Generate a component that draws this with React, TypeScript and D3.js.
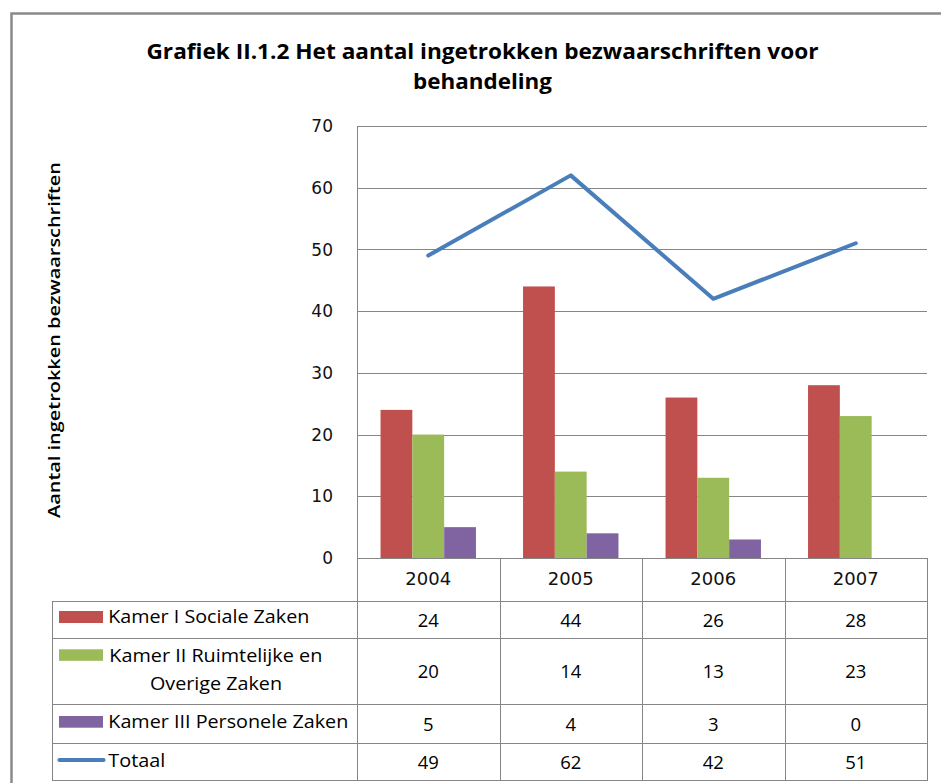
import React from "react";
import * as d3 from "d3";

const years = ["2004", "2005", "2006", "2007"];
const seriesNames = ["Kamer I Sociale Zaken", "Kamer II Ruimtelijke en Overige Zaken", "Kamer III Personele Zaken"];
const kamerI = [24, 44, 26, 28];
const kamerII = [20, 14, 13, 23];
const kamerIII = [5, 4, 3, 0];
const totaal = [49, 62, 42, 51];
const yTicks = [0, 10, 20, 30, 40, 50, 60, 70];
const barColors = ["#C0504D", "#9BBB59", "#8064A2"];
const lineColor = "#4A7EBB";

const W = 941;
const H = 783;
const gridColor = "#868686";

export default function App() {
  const plotL = 357, plotR = 927, plotT = 126, plotB = 558;
  const x = d3.scaleBand<string>().domain(years).range([plotL, plotR]).padding(0);
  const y = d3.scaleLinear().domain([0, 70]).range([plotB, plotT]);
  const bw = x.bandwidth();
  const sub = d3.scaleBand<string>().domain(["a", "b", "c"]).range([0, bw]).paddingInner(0).paddingOuter(0.74);
  const barSeries = [kamerI, kamerII, kamerIII];
  const subKeys = ["a", "b", "c"];

  const line = d3.line<number>()
    .x((_, i) => (x(years[i]) as number) + bw / 2)
    .y((d) => y(d));

  const rowEdges = [601, 638, 704.3, 743, 780];
  const tableL = 52;
  const rows = [kamerI, kamerII, kamerIII, totaal];
  const valueFont = "'Open Sans', 'Noto Sans', sans-serif";
  const axisFont = "'DejaVu Sans', Verdana, sans-serif";

  return (
    <div style={{ position: "absolute", left: 0, top: 0 }}>
      <svg width={W} height={H} style={{ display: "block", background: "#fff" }}>
        <rect x={0} y={0} width={W} height={H} fill="#fff" />
        <rect x={11.5} y={13.5} width={1000} height={1000} fill="none" stroke="#8a8a8a" strokeWidth={2.5} />

        <text x={482.5} y={59.3} textAnchor="middle" fontFamily="'Open Sans', sans-serif" fontWeight="bold" fontSize={21}
          textLength={672} lengthAdjust="spacingAndGlyphs" fill="#000">
          Grafiek II.1.2 Het aantal ingetrokken bezwaarschriften voor
        </text>
        <text x={482.5} y={88.5} textAnchor="middle" fontFamily="'Open Sans', sans-serif" fontWeight="bold" fontSize={21}
          textLength={139} lengthAdjust="spacingAndGlyphs" fill="#000">
          behandeling
        </text>

        <text transform={`translate(60,340) rotate(-90)`} textAnchor="middle" fontFamily="'Open Sans', sans-serif"
          fontWeight={600} fontSize={16.5} textLength={356} lengthAdjust="spacingAndGlyphs" fill="#000">
          Aantal ingetrokken bezwaarschriften
        </text>

        {yTicks.map((t) => (
          <line key={"g" + t} x1={plotL} x2={plotR} y1={Math.round(y(t)) + 0.5} y2={Math.round(y(t)) + 0.5} stroke={gridColor} strokeWidth={1} />
        ))}
        {yTicks.map((t) => (
          <text key={"t" + t} x={333} y={y(t)} dy="0.36em" textAnchor="end" fontFamily={axisFont} fontSize={17} fill="#111">
            {t}
          </text>
        ))}

        {barSeries.map((s, si) =>
          s.map((v, i) =>
            v > 0 ? (
              <rect key={`b${si}-${i}`} x={(x(years[i]) as number) + (sub(subKeys[si]) as number)} y={y(v)}
                width={sub.bandwidth()} height={plotB - y(v)} fill={barColors[si]} />
            ) : null
          )
        )}

        <path d={line(totaal) || ""} fill="none" stroke={lineColor} strokeWidth={4} strokeLinecap="round" strokeLinejoin="round" />

        <line x1={plotL + 0.5} x2={plotL + 0.5} y1={plotT} y2={780.5} stroke={gridColor} strokeWidth={1} />
        {years.map((yr) => {
          const xr = (x(yr) as number) + bw;
          return <line key={"v" + yr} x1={Math.round(xr) + 0.5} x2={Math.round(xr) + 0.5} y1={plotB} y2={780.5} stroke={gridColor} strokeWidth={1} />;
        })}
        <line x1={tableL + 0.5} x2={tableL + 0.5} y1={rowEdges[0]} y2={780.5} stroke={gridColor} strokeWidth={1} />
        {rowEdges.map((ry, i) => (
          <line key={"h" + i} x1={tableL} x2={plotR + 1} y1={Math.round(ry) + 0.5} y2={Math.round(ry) + 0.5} stroke={gridColor} strokeWidth={1} />
        ))}

        {years.map((yr) => (
          <text key={"y" + yr} x={(x(yr) as number) + bw / 2} y={579} dy="0.36em" textAnchor="middle"
            fontFamily={axisFont} fontSize={18} fill="#111">
            {yr}
          </text>
        ))}

        {rows.map((r, ri) =>
          r.map((v, i) => (
            <text key={`v${ri}-${i}`} x={(x(years[i]) as number) + bw / 2} y={(rowEdges[ri] + rowEdges[ri + 1]) / 2 + 0.5}
              dy="0.36em" textAnchor="middle" fontFamily={valueFont} fontSize={18.5} fill="#000">
              {v}
            </text>
          ))
        )}

        <rect x={59} y={611} width={44} height={12} fill={barColors[0]} />
        <text x={108.3} y={623.3} fontFamily={valueFont} fontSize={17.5} textLength={201} lengthAdjust="spacingAndGlyphs" fill="#000">
          {seriesNames[0]}
        </text>

        <rect x={59} y={649.3} width={44} height={11.5} fill={barColors[1]} />
        <text x={109.3} y={661.7} fontFamily={valueFont} fontSize={17.5} textLength={213} lengthAdjust="spacingAndGlyphs" fill="#000">
          Kamer II Ruimtelijke en
        </text>
        <text x={216} y={690} textAnchor="middle" fontFamily={valueFont} fontSize={17.5} textLength={132} lengthAdjust="spacingAndGlyphs" fill="#000">
          Overige Zaken
        </text>

        <rect x={59} y={716} width={44} height={11.7} fill={barColors[2]} />
        <text x={108.3} y={727.8} fontFamily={valueFont} fontSize={17.5} textLength={240} lengthAdjust="spacingAndGlyphs" fill="#000">
          {seriesNames[2]}
        </text>

        <line x1={59.5} x2={103.5} y1={760} y2={760} stroke={lineColor} strokeWidth={4.2} strokeLinecap="round" />
        <text x={108.3} y={766.7} fontFamily={valueFont} fontSize={17.5} textLength={57} lengthAdjust="spacingAndGlyphs" fill="#000">
          Totaal
        </text>
      </svg>
    </div>
  );
}
